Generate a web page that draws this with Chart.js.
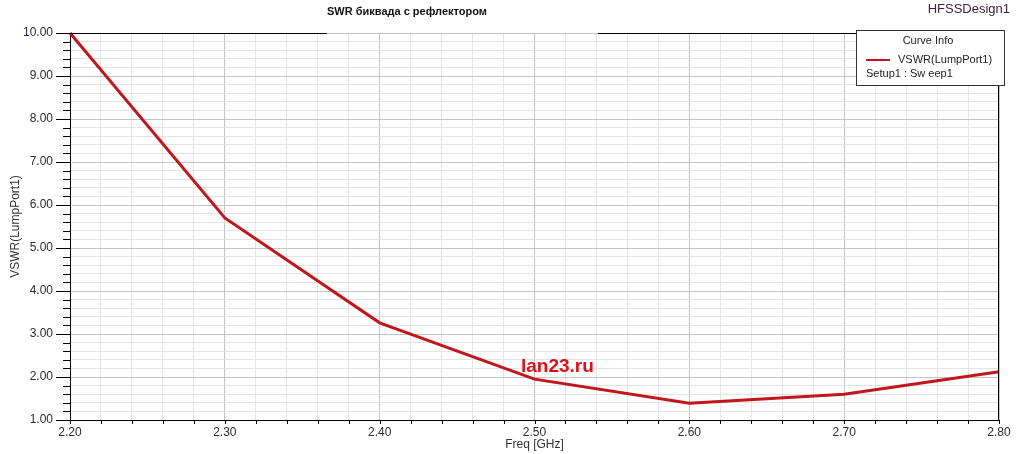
<!DOCTYPE html>
<html>
<head>
<meta charset="utf-8">
<script src="https://cdn.jsdelivr.net/npm/chart.js@4"></script>
<style>
  html, body { margin: 0; padding: 0; background: #fff; }
  #wrap { width: 1019px; height: 454px; position: relative; }
</style>
</head>
<body>
<div id="wrap"><canvas id="swr"></canvas></div>
<script>
// data
const freqs = [2.20, 2.30, 2.40, 2.50, 2.60, 2.70, 2.80];
const vswr  = [10.00, 5.70, 3.26, 1.95, 1.39, 1.60, 2.12];

const xTickLabels = ['2.20', '2.30', '2.40', '2.50', '2.60', '2.70', '2.80'];
const yTickLabels = ['1.00', '2.00', '3.00', '4.00', '5.00', '6.00', '7.00', '8.00', '9.00', '10.00'];

const FONT = '"Liberation Sans", Arial, sans-serif';

// minor grid every 1/5 of a major step
function withMinor(labels) {
  const vals = labels.map(Number);
  const out = [];
  for (let i = 0; i < vals.length - 1; i++) {
    const step = (vals[i+1] - vals[i]) / 5;
    for (let k = 0; k < 5; k++) out.push({ value: vals[i] + step * k, major: k === 0 });
  }
  out.push({ value: vals[vals.length-1], major: true });
  return out;
}

function isMajor(v, labels) {
  return labels.some(l => Math.abs(Number(l) - v) < 1e-6);
}

// frame, title, legend box, watermark
const decor = {
  id: 'decor',
  afterDraw(chart) {
    const { ctx, chartArea: a, scales } = chart;
    ctx.save();

    // top + right frame (top one is broken by the title)
    ctx.strokeStyle = '#000';
    ctx.lineWidth = 1;
    ctx.beginPath();
    ctx.moveTo(a.left, a.top + 0.5); ctx.lineTo(327, a.top + 0.5);
    ctx.moveTo(598, a.top + 0.5); ctx.lineTo(a.right, a.top + 0.5);
    ctx.moveTo(a.right - 0.5, a.top); ctx.lineTo(a.right - 0.5, a.bottom);
    ctx.stroke();

    // axis ticks
    const ys = scales.y, xs = scales.x;
    ys.ticks.forEach(t => {
      const py = Math.round(ys.getPixelForValue(t.value)) + 0.5;
      const len = isMajor(t.value, yTickLabels) ? 14 : 7;
      ctx.beginPath(); ctx.moveTo(a.left - len, py); ctx.lineTo(a.left, py); ctx.stroke();
    });
    xs.ticks.forEach(t => {
      const px = Math.round(xs.getPixelForValue(t.value)) + 0.5;
      ctx.beginPath(); ctx.moveTo(px, a.bottom); ctx.lineTo(px, a.bottom + 4); ctx.stroke();
    });

    // title
    ctx.fillStyle = '#111';
    ctx.font = 'bold 11px ' + FONT;
    ctx.textBaseline = 'middle';
    ctx.textAlign = 'left';
    ctx.fillText('SWR биквада с рефлектором', 327, 12);

    ctx.fillStyle = '#402040';
    ctx.font = '13px ' + FONT;
    ctx.textAlign = 'right';
    ctx.fillText('HFSSDesign1', 1010, 9);

    // Curve Info box
    const bx = 856, by = 30, bw = 148, bh = 55;
    ctx.fillStyle = '#fff';
    ctx.fillRect(bx, by, bw, bh);
    ctx.strokeStyle = '#333';
    ctx.strokeRect(bx + 0.5, by + 0.5, bw, bh);
    ctx.fillStyle = '#222';
    ctx.font = '11px ' + FONT;
    ctx.textAlign = 'center';
    ctx.fillText('Curve Info', 928, 41);
    ctx.textAlign = 'left';
    ctx.fillText('VSWR(LumpPort1)', 898, 60);
    ctx.fillText('Setup1 : Sw eep1', 866, 74);
    ctx.strokeStyle = chart.data.datasets[0].borderColor;
    ctx.lineWidth = 2;
    ctx.beginPath(); ctx.moveTo(866, 60); ctx.lineTo(890, 60); ctx.stroke();

    // watermark
    ctx.fillStyle = '#e0101a';
    ctx.font = 'bold 19px ' + FONT;
    ctx.textAlign = 'left';
    ctx.fillText('lan23.ru', 521, 367);

    ctx.restore();
  }
};

new Chart(document.getElementById('swr'), {
  type: 'line',
  data: {
    datasets: [{
      label: 'VSWR(LumpPort1)',
      data: freqs.map((f, i) => ({ x: f, y: vswr[i] })),
      borderColor: '#c0161c',
      borderWidth: 3,
      pointRadius: 0,
      tension: 0,
      clip: false
    }]
  },
  options: {
    responsive: true,
    maintainAspectRatio: false,
    animation: false,
    layout: { padding: { top: 33, right: 20, left: 0, bottom: 0 } },
    plugins: {
      legend: { display: false },
      tooltip: { enabled: false },
      title: { display: false }
    },
    scales: {
      x: {
        type: 'linear',
        min: 2.2, max: 2.8,
        afterBuildTicks: s => { s.ticks = withMinor(xTickLabels); },
        afterFit: s => { s.height = 34; },
        ticks: {
          autoSkip: false,
          maxRotation: 0,
          padding: 5,
          color: '#2a2a3a',
          font: { family: FONT, size: 12 },
          callback: v => {
            const i = xTickLabels.findIndex(l => Math.abs(Number(l) - v) < 1e-6);
            return i >= 0 ? xTickLabels[i] : '';
          }
        },
        grid: {
          drawTicks: false,
          color: c => (c.tick && isMajor(c.tick.value, xTickLabels)) ? '#c4c4c4' : '#e4e4e4'
        },
        border: { color: '#000', width: 1 },
        title: {
          display: true, text: 'Freq [GHz]', color: '#333',
          font: { family: FONT, size: 12 }, padding: { top: 0, bottom: 2 }
        }
      },
      y: {
        type: 'linear',
        min: 1, max: 10,
        afterBuildTicks: s => { s.ticks = withMinor(yTickLabels); },
        afterFit: s => { s.width = 70; },
        ticks: {
          autoSkip: false,
          padding: 17,
          color: '#2a2a3a',
          font: { family: FONT, size: 12 },
          callback: v => {
            const i = yTickLabels.findIndex(l => Math.abs(Number(l) - v) < 1e-6);
            return i >= 0 ? yTickLabels[i] : '';
          }
        },
        grid: {
          drawTicks: false,
          color: c => (c.tick && isMajor(c.tick.value, yTickLabels)) ? '#c4c4c4' : '#e4e4e4'
        },
        border: { color: '#000', width: 1 },
        title: {
          display: true, text: 'VSWR(LumpPort1)', color: '#333',
          font: { family: FONT, size: 12 }, padding: { top: 8, bottom: 0 }
        }
      }
    }
  },
  plugins: [decor]
});
</script>
</body>
</html>
